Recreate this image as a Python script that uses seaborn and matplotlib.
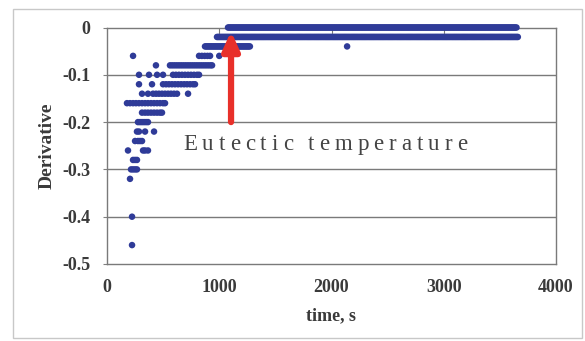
import numpy as np
import pandas as pd
import matplotlib
matplotlib.use("Agg")
import matplotlib.pyplot as plt
from matplotlib.patches import Rectangle
import seaborn as sns

# Cooling-curve derivative: individual readings before the plateau
early_levels = [-0.46, -0.40, -0.32, -0.30, -0.28, -0.26, -0.24, -0.22, -0.20,
                -0.18, -0.16, -0.14, -0.12, -0.10, -0.08, -0.06, -0.04]
early_times = [
    [223],
    [223],
    [205],
    [214, 232, 250, 267],
    [232, 250, 267],
    [187, 321, 339, 365],
    [250, 276, 294, 312],
    [267, 285, 339, 419],
    [276, 294, 312, 330, 348, 365],
    [312, 339, 365, 392, 419, 446, 472, 490],
    [178, 205, 232, 258, 285, 312, 339, 365, 392, 419, 446, 472, 499, 517],
    [312, 365, 410, 437, 463, 490, 517, 544, 570, 597, 624, 722],
    [285, 401, 499, 526, 552, 579, 606, 633, 660, 687, 713, 740, 766, 784],
    [285, 374, 446, 499, 588, 614, 641, 668, 695, 722, 748, 775, 802, 820],
    [436, 561, 581, 601, 621, 641, 661, 681, 701, 721, 741, 761, 781, 801,
     821, 841, 861, 881, 901, 921, 936],
    [232, 820, 845, 870, 895, 918, 1000],
    [2139],
]

# Sustained levels logged every 10 s: (level, first time, last time)
run_levels = [0.0, -0.02, -0.04]
run_start = [1078, 980, 873]
run_end = [3654, 3663, 1275]
sample_step = 10

x_ticks = [0, 1000, 2000, 3000, 4000]
y_ticks = [0, -0.1, -0.2, -0.3, -0.4, -0.5]
y_ticklabels = ["0", "-0.1", "-0.2", "-0.3", "-0.4", "-0.5"]

rows = []
for lvl, ts in zip(early_levels, early_times):
    rows += [(t, lvl) for t in ts]
for lvl, a, b in zip(run_levels, run_start, run_end):
    rows += [(t, lvl) for t in np.arange(a, b + 1, sample_step)]
df = pd.DataFrame(rows, columns=["time", "derivative"])

sns.set_style("white")
plt.rcParams["font.family"] = ["Liberation Serif", "DejaVu Serif"]

W, H = 585, 341
fig = plt.figure(figsize=(W / 100, H / 100), dpi=100)
fig.patch.set_facecolor("white")
ax = fig.add_axes([107 / W, 1 - 264 / H, (556 - 107) / W, (264 - 27.5) / H])

# outer chart frame
fig.add_artist(Rectangle((13 / W, 1 - 338 / H), (582 - 13) / W, (338 - 9) / H,
                         transform=fig.transFigure, fill=False,
                         edgecolor="#c8c8c8", linewidth=1.0))

sns.scatterplot(data=df, x="time", y="derivative", ax=ax, s=22,
                color="#2f3b98", edgecolor="none", linewidth=0, zorder=3,
                clip_on=False)

ax.set_xlim(0, 4000)
ax.set_ylim(-0.5, 0)
ax.set_yticks(y_ticks)
ax.set_xticks(x_ticks)
ax.set_yticklabels(y_ticklabels)
ax.set_xticklabels([str(v) for v in x_ticks])
for lab in ax.get_xticklabels() + ax.get_yticklabels():
    lab.set_fontweight("bold")
    lab.set_fontsize(13)
    lab.set_color("#3a3a3a")
ax.tick_params(axis="y", length=3, width=0.8, color="#808080", pad=9, left=True)
ax.tick_params(axis="x", length=0, pad=11)

for v in y_ticks[1:-1]:
    ax.axhline(v, color="#7a7a7a", linewidth=1.0, zorder=1)
for v in x_ticks[1:-1]:
    ax.plot([v, v], [0, -0.012], color="#7a7a7a", linewidth=0.8, zorder=1)
for s in ax.spines.values():
    s.set_color("#7a7a7a")
    s.set_linewidth(1.0)

ax.set_xlabel("time, s", fontweight="bold", fontsize=13, color="#3a3a3a", labelpad=8)
ax.set_ylabel("Derivative", fontweight="bold", fontsize=14, color="#3a3a3a", labelpad=5)

# red arrow pointing at the plateau start
ax.annotate("", xy=(1105, -0.008), xytext=(1105, -0.2),
            arrowprops=dict(arrowstyle="-|>,head_length=1.1,head_width=0.5",
                            color="#e8302a", linewidth=4.5, shrinkA=0, shrinkB=0),
            zorder=4)

# letter-spaced label
fig.canvas.draw()
renderer = fig.canvas.get_renderer()
label = "Eutectic temperature"
x_px, y_px = 183.0, H - 145.0
spacing = 5.0
for ch in label:
    t = fig.text(x_px / W, y_px / H, ch, fontsize=16.5, color="#444444",
                 va="center", ha="left", family=["Liberation Serif"])
    if ch == " ":
        w = 5.0
    else:
        w = t.get_window_extent(renderer).width
    x_px += w + spacing

fig.savefig("out.png", dpi=100)
